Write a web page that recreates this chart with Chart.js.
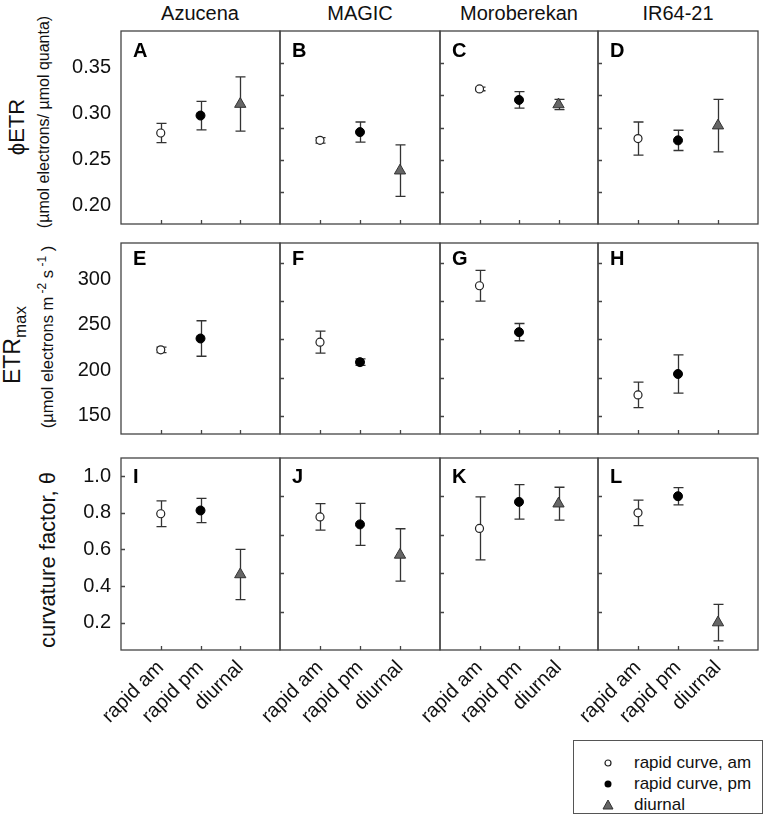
<!DOCTYPE html>
<html>
<head>
<meta charset="utf-8">
<script src="https://cdn.jsdelivr.net/npm/chart.js@4.4.0/dist/chart.umd.min.js"></script>
<style>
  body { margin: 0; background: #fff; font-family: "Liberation Sans", Arial, sans-serif; color: #111; }
  #wrap { position: relative; width: 768px; height: 829px; overflow: hidden; }
  .box { position: absolute; }
  .txt { position: absolute; white-space: nowrap; }
  .rot { transform: translate(-50%, -50%) rotate(-90deg); }
  .col { transform: translate(-50%, -50%); font-size: 20px; }
  #legend { position: absolute; left: 573px; top: 740px; width: 190px; height: 74px; border: 1.5px solid #555; box-sizing: border-box; font-size: 17px; }
  #legend div { position: absolute; left: 0; width: 185px; height: 20px; line-height: 20px; white-space: nowrap; }
  #legend svg { position: absolute; left: 28px; top: 3px; }
  #legend span { position: absolute; left: 60px; }
</style>
</head>
<body>
<div id="wrap">
  <div class="txt col" style="left:200px;top:13px">Azucena</div>
  <div class="txt col" style="left:360px;top:13px">MAGIC</div>
  <div class="txt col" style="left:519px;top:13px">Moroberekan</div>
  <div class="txt col" style="left:678px;top:13px">IR64-21</div>

  <div class="txt rot" style="left:17px;top:127px;font-size:22px">ϕETR</div>
  <div class="txt rot" style="left:44px;top:122px;font-size:16px">(µmol electrons/ µmol quanta)</div>
  <div class="txt rot" style="left:15px;top:345px;font-size:23px">ETR<sub style="font-size:17px">max</sub></div>
  <div class="txt rot" style="left:46px;top:337px;font-size:16.5px">(µmol electrons m<sup style="font-size:12px"> -2</sup> s<sup style="font-size:12px"> -1</sup> )</div>
  <div class="txt rot" style="left:48px;top:560px;font-size:22px">curvature factor, θ</div>

  <div id="legend">
    <div style="top:12px"><svg width="12" height="14"><circle cx="6" cy="7" r="3" fill="#fff" stroke="#222" stroke-width="1.2"/></svg><span>rapid curve, am</span></div>
    <div style="top:33px"><svg width="12" height="14"><circle cx="6" cy="7" r="3.5" fill="#000"/></svg><span>rapid curve, pm</span></div>
    <div style="top:54px"><svg width="12" height="14"><polygon points="6,2 11,11 1,11" fill="#666" stroke="#333" stroke-width="1"/></svg><span>diurnal</span></div>
  </div>
</div>
<script>
var genotypes = ["Azucena", "MAGIC", "Moroberekan", "IR64-21"];
var treatments = ["rapid am", "rapid pm", "diurnal"];
var letters = ["ABCD", "EFGH", "IJKL"];

// phiETR (umol electrons / umol quanta), one value per genotype
var phiAm = [0.279, 0.271, 0.327, 0.273];
var phiAmErr = [0.0105, 0.003, 0.002, 0.018];
var phiPm = [0.298, 0.280, 0.315, 0.271];
var phiPmErr = [0.0155, 0.011, 0.009, 0.011];
var phiDi = [0.3105, 0.238, 0.310, 0.287];
var phiDiErr = [0.0295, 0.028, 0.0055, 0.0285];

// ETRmax (umol electrons m-2 s-1)
var etrAm = [222.5, 231, 293, 173];
var etrAmErr = [3, 12, 17, 14];
var etrPm = [235, 209, 242, 196];
var etrPmErr = [19.5, 3.5, 9.5, 21];
var etrDi = [null, null, null, null];
var etrDiErr = [0, 0, 0, 0];

// curvature factor theta
var thAm = [0.795, 0.778, 0.715, 0.80];
var thAmErr = [0.07, 0.072, 0.172, 0.07];
var thPm = [0.813, 0.737, 0.86, 0.891];
var thPmErr = [0.066, 0.115, 0.094, 0.047];
var thDi = [0.463, 0.57, 0.85, 0.20];
var thDiErr = [0.137, 0.143, 0.09, 0.10];

// tick labels on the left column, unlabeled inner ticks on the other panels
var phiTicks = [0.20, 0.25, 0.30, 0.35];
var etrTicks = [150, 200, 250, 300];
var thTicks = [0.2, 0.4, 0.6, 0.8, 1.0];
var phiMinor = [0.215, 0.25, 0.285, 0.32, 0.355];
var etrMinor = [150, 192, 234, 276, 318];
var thMinor = [0.26, 0.47, 0.68, 0.89];

var rows = [
    {am: phiAm, amE: phiAmErr, pm: phiPm, pmE: phiPmErr, di: phiDi, diE: phiDiErr,
     min: 0.18, max: 0.39, ticks: phiTicks, minor: phiMinor, dec: 2, firstMinor: false},
    {am: etrAm, amE: etrAmErr, pm: etrPm, pmE: etrPmErr, di: etrDi, diE: etrDiErr,
     min: 130, max: 340, ticks: etrTicks, minor: etrMinor, dec: 0, firstMinor: false},
    {am: thAm, amE: thAmErr, pm: thPm, pmE: thPmErr, di: thDi, diE: thDiErr,
     min: 0.05, max: 1.1, ticks: thTicks, minor: thMinor, dec: 1, firstMinor: true}
];

var colX = [121, 280, 440, 598, 758];
var rowY = [[31, 224], [243, 434], [458, 650]];
var letterBase = [26, 22, 25];
var PAD = 4;
var BOTTOM = 745;

var panelPlugin = {
    id: "panel",
    beforeDatasetsDraw: function(chart) {
        var ctx = chart.ctx, xs = chart.scales.x, ys = chart.scales.y;
        ctx.save();
        ctx.strokeStyle = "#333";
        ctx.lineWidth = 1.3;
        chart.data.datasets.forEach(function(ds) {
            ds.data.forEach(function(p, i) {
                if (p.y == null) return;
                var e = ds.err[i];
                var px = Math.round(xs.getPixelForValue(p.x)) + 0.5;
                var y1 = ys.getPixelForValue(p.y - e), y2 = ys.getPixelForValue(p.y + e);
                ctx.beginPath();
                ctx.moveTo(px, y1); ctx.lineTo(px, y2);
                ctx.moveTo(px - 5, y1); ctx.lineTo(px + 5, y1);
                ctx.moveTo(px - 5, y2); ctx.lineTo(px + 5, y2);
                ctx.stroke();
            });
        });
        ctx.restore();
    },
    afterDraw: function(chart, args, opts) {
        var ctx = chart.ctx, a = chart.chartArea, xs = chart.scales.x, ys = chart.scales.y;
        ctx.save();
        ctx.strokeStyle = "#444";
        ctx.lineWidth = 1.3;
        ctx.strokeRect(a.left, a.top, a.right - a.left, a.bottom - a.top);
        ctx.beginPath();
        (opts.minor || []).forEach(function(v) {
            var py = Math.round(ys.getPixelForValue(v)) + 0.5;
            ctx.moveTo(a.left, py); ctx.lineTo(a.left + 4, py);
        });
        [1, 2, 3].forEach(function(v) {
            var px = Math.round(xs.getPixelForValue(v)) + 0.5;
            ctx.moveTo(px, a.bottom); ctx.lineTo(px, a.bottom - 4);
        });
        ctx.stroke();
        ctx.fillStyle = "#000";
        ctx.font = "bold 20px 'Liberation Sans', Arial, sans-serif";
        ctx.fillText(opts.letter, a.left + 12, a.top + opts.base);
        ctx.restore();
    }
};

function makePanel(r, c) {
    var row = rows[r];
    var showX = r === 2, showY = c === 0;
    // bottom row needs room on the left for the slanted labels
    var padLeft = showY ? 0 : (showX ? 60 : PAD);
    var left = showY ? 50 : colX[c] - padLeft;
    var top = rowY[r][0] - PAD;
    var right = colX[c + 1] + PAD;
    var bottom = showX ? BOTTOM : rowY[r][1] + PAD;
    var box = document.createElement("div");
    box.className = "box";
    box.style.left = left + "px";
    box.style.top = top + "px";
    box.style.width = (right - left) + "px";
    box.style.height = (bottom - top) + "px";
    var cv = document.createElement("canvas");
    box.appendChild(cv);
    document.getElementById("wrap").appendChild(box);

    var datasets = [
        {label: "rapid curve, am", data: [{x: 1, y: row.am[c]}], err: [row.amE[c]],
         pointStyle: "circle", pointRadius: 4, backgroundColor: "#fff", borderColor: "#222", borderWidth: 1.2},
        {label: "rapid curve, pm", data: [{x: 2, y: row.pm[c]}], err: [row.pmE[c]],
         pointStyle: "circle", pointRadius: 4.5, backgroundColor: "#000", borderColor: "#000", borderWidth: 1},
        {label: "diurnal", data: [{x: 3, y: row.di[c]}], err: [row.diE[c]],
         pointStyle: "triangle", pointRadius: 6.5, backgroundColor: "#666", borderColor: "#333", borderWidth: 1}
    ];

    var font = {family: "'Liberation Sans', Arial, sans-serif", size: 20};
    var minor = showY ? (row.firstMinor ? row.ticks : []) : row.minor;

    new Chart(cv.getContext("2d"), {
        type: "scatter",
        data: {datasets: datasets},
        options: {
            responsive: true,
            maintainAspectRatio: false,
            animation: false,
            events: [],
            layout: {
                autoPadding: false,
                padding: {left: padLeft, right: PAD, top: PAD, bottom: showX ? 0 : PAD}
            },
            plugins: {
                legend: {display: false},
                tooltip: {enabled: false},
                panel: {letter: letters[r][c], base: letterBase[r], minor: minor}
            },
            scales: {
                x: {
                    type: "linear", min: 0, max: 4,
                    display: showX,
                    grid: {display: false, drawTicks: false},
                    border: {display: false},
                    afterBuildTicks: function(s) { s.ticks = [1, 2, 3].map(function(v) { return {value: v}; }); },
                    afterFit: function(s) {
                        s.height = showX ? BOTTOM - rowY[2][1] : 0;
                        s.paddingLeft = 0; s.paddingRight = 0;
                    },
                    ticks: {
                        autoSkip: false, minRotation: 45, maxRotation: 45, padding: 6, color: "#111", font: font,
                        callback: function(v) { return treatments[v - 1]; }
                    }
                },
                y: {
                    min: row.min, max: row.max,
                    display: showY,
                    grid: {display: false, drawTicks: false},
                    border: {display: false},
                    afterBuildTicks: function(s) { s.ticks = row.ticks.map(function(v) { return {value: v}; }); },
                    afterFit: function(s) {
                        s.width = showY ? colX[0] - 50 : 0;
                        s.paddingTop = 0; s.paddingBottom = 0;
                    },
                    ticks: {
                        autoSkip: false, padding: 10, color: "#111", font: font,
                        callback: function(v) { return v.toFixed(row.dec); }
                    }
                }
            }
        },
        plugins: [panelPlugin]
    });
}

for (var r = 0; r < 3; r++) {
    for (var c = 0; c < 4; c++) makePanel(r, c);
}
</script>
</body>
</html>
